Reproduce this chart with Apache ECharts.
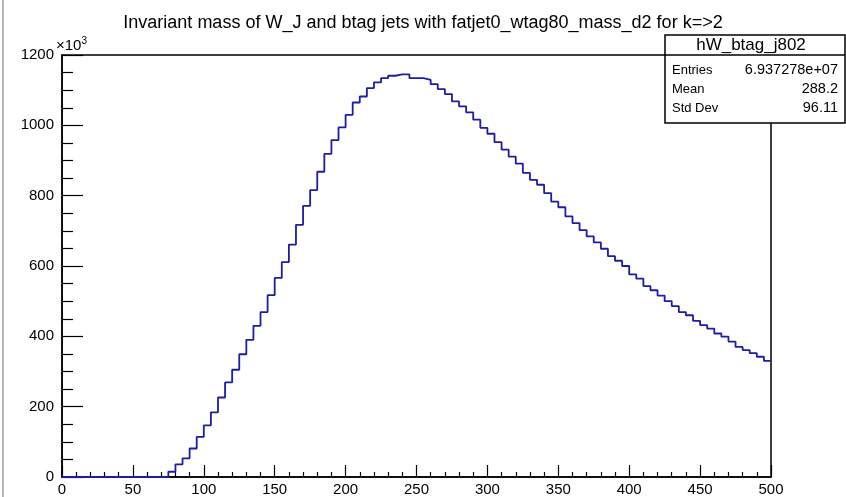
<!DOCTYPE html>
<html>
<head>
<meta charset="utf-8">
<title>hW_btag_j802</title>
<script src="https://cdn.jsdelivr.net/npm/echarts@6/dist/echarts.min.js"></script>
<style>
  html, body { margin: 0; padding: 0; background: #fff; }
  #main { width: 846px; height: 497px; }
</style>
</head>
<body>
<div id="main"></div>
<script>
// histogram: 100 bins of width 5 from 0 to 500, counts in units of 10^3
const titleText = "Invariant mass of W_J and btag jets with fatjet0_wtag80_mass_d2 for k=>2";
const histName = "hW_btag_j802";
const statLabels = ["Entries", "Mean", "Std Dev"];
const statValues = ["6.937278e+07", "288.2", "96.11"];
const binLow = 0;
const binWidth = 5;
const binCounts = [
  0, 0, 0, 0, 0, 0, 0, 0, 0, 0,
  0, 0, 0, 0, 0, 15, 36, 53, 81, 114,
  147, 184, 226, 269, 305, 349, 390, 430, 469, 517,
  566, 611, 661, 717, 771, 816, 868, 919, 958, 994,
  1030, 1065, 1082, 1106, 1122, 1134, 1141, 1145, 1145, 1134,
  1134, 1129, 1117, 1103, 1089, 1068, 1054, 1037, 1016, 993,
  976, 952, 931, 911, 891, 865, 845, 831, 807, 783,
  767, 741, 722, 702, 684, 667, 649, 628, 615, 600,
  576, 564, 543, 531, 516, 500, 486, 469, 460, 444,
  432, 422, 408, 399, 385, 370, 361, 352, 342, 330
];
const xTicks = [0, 500, 50];   // min, max, step
const yTicks = [0, 1200, 200];

// build step points from the left edge of each bin, plus the last right edge
let stepData = binCounts.map((v, i) => [binLow + i * binWidth, v]);
stepData.push([binLow + binCounts.length * binWidth, binCounts[binCounts.length - 1]]);

let myChart = echarts.init(document.getElementById("main"));
const font = "'Liberation Sans', Arial, sans-serif";

let option = {
  animation: false,
  title: {
    text: titleText,
    left: "center",
    top: 9,
    textStyle: { fontFamily: font, fontSize: 18, fontWeight: "normal", color: "#000" }
  },
  grid: {
    left: 62,
    right: 75,
    top: 55,
    bottom: 18,
    show: true,
    borderColor: "#000",
    borderWidth: 1.5,
    backgroundColor: "#fff"
  },
  xAxis: {
    type: "value",
    min: xTicks[0],
    max: xTicks[1],
    interval: xTicks[2],
    axisLine: { show: true, lineStyle: { color: "#000", width: 1.5 } },
    axisTick: { show: true, inside: true, length: 12, lineStyle: { color: "#000", width: 1.2 } },
    minorTick: { show: true, splitNumber: 5, length: 5, lineStyle: { color: "#000", width: 1.2 } },
    splitLine: { show: false },
    axisLabel: { fontFamily: font, fontSize: 15, color: "#000", margin: 5 }
  },
  yAxis: {
    type: "value",
    min: yTicks[0],
    max: yTicks[1],
    interval: yTicks[2],
    axisLine: { show: true, lineStyle: { color: "#000", width: 1.5 } },
    axisTick: { show: true, inside: true, length: 21, lineStyle: { color: "#000", width: 1.2 } },
    minorTick: { show: true, splitNumber: 4, length: 11, lineStyle: { color: "#000", width: 1.2 } },
    splitLine: { show: false },
    axisLabel: {
      fontFamily: font, fontSize: 15, color: "#000", margin: 8,
      formatter: function(v) { return String(v); }
    }
  },
  series: [
    {
      name: histName,
      type: "line",
      step: "end",
      showSymbol: false,
      data: stepData,
      lineStyle: { color: "#1c1ca8", width: 1.8 },
      z: 3
    }
  ],
  graphic: [
    // left window edge
    { type: "rect", shape: { x: 2, y: 0, width: 2, height: 497 }, style: { fill: "#b8b8b8" }, silent: true },
    // x10^3 exponent
    {
      type: "text",
      left: 56,
      top: 36,
      style: {
        text: "{a|×10}{b|3}",
        rich: {
          a: { fontFamily: font, fontSize: 15, fill: "#000" },
          b: { fontFamily: font, fontSize: 10, fill: "#000", verticalAlign: "top", padding: [0, 0, 9, 0] }
        }
      }
    },
    // stats box
    { type: "rect", shape: { x: 665, y: 35, width: 180, height: 88 }, style: { fill: "#fff", stroke: "#000", lineWidth: 1.5 }, z: 10 },
    { type: "line", shape: { x1: 665, y1: 55, x2: 845, y2: 55 }, style: { stroke: "#000", lineWidth: 1.5 }, z: 11 },
    {
      type: "text", x: 751, y: 45, z: 11,
      style: { text: histName, fontFamily: font, fontSize: 17, fill: "#000", align: "center", verticalAlign: "middle" }
    },
    {
      type: "text", x: 672, y: 70, z: 11,
      style: { text: statLabels[0], fontFamily: font, fontSize: 13, fill: "#000", verticalAlign: "middle" }
    },
    {
      type: "text", x: 838, y: 70, z: 11,
      style: { text: statValues[0], fontFamily: font, fontSize: 14.5, fill: "#000", align: "right", verticalAlign: "middle" }
    },
    {
      type: "text", x: 672, y: 89, z: 11,
      style: { text: statLabels[1], fontFamily: font, fontSize: 13, fill: "#000", verticalAlign: "middle" }
    },
    {
      type: "text", x: 838, y: 89, z: 11,
      style: { text: statValues[1], fontFamily: font, fontSize: 14.5, fill: "#000", align: "right", verticalAlign: "middle" }
    },
    {
      type: "text", x: 672, y: 108, z: 11,
      style: { text: statLabels[2], fontFamily: font, fontSize: 13, fill: "#000", verticalAlign: "middle" }
    },
    {
      type: "text", x: 838, y: 108, z: 11,
      style: { text: statValues[2], fontFamily: font, fontSize: 14.5, fill: "#000", align: "right", verticalAlign: "middle" }
    }
  ]
};

myChart.setOption(option);
</script>
</body>
</html>
